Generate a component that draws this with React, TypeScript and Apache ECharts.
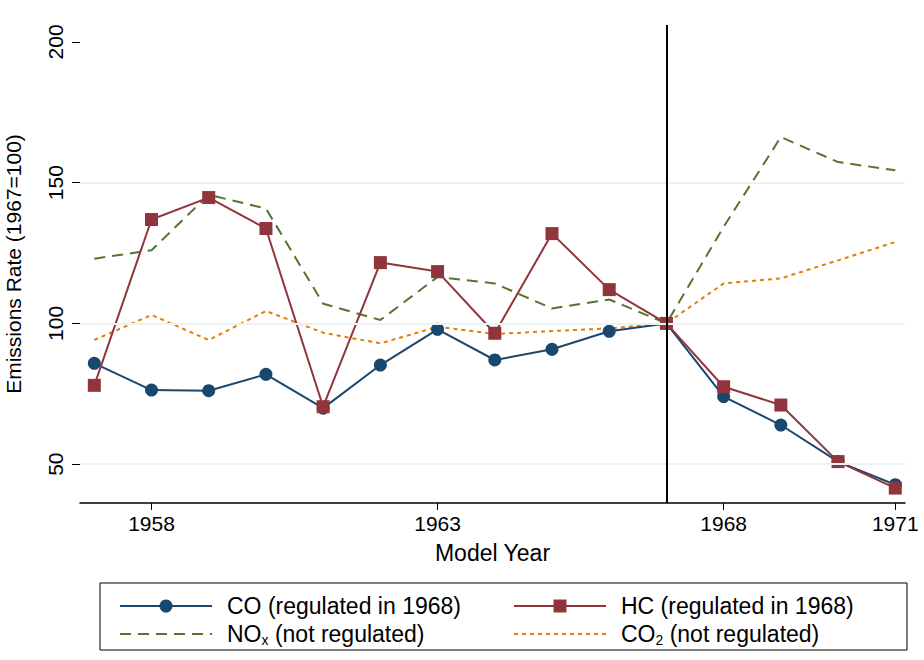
import React, { useEffect, useRef } from "react";
import * as echarts from "echarts";

const years = [1957,1958,1959,1960,1961,1962,1963,1964,1965,1966,1967,1968,1969,1970,1971];
const co = [85.8,76.3,76.1,81.9,69.9,85.2,97.9,87.0,90.8,97.2,100,74.0,63.9,50.9,42.7];
const hc = [78.0,136.9,144.7,133.7,70.4,121.6,118.4,96.5,131.9,112.0,100,77.5,71.0,50.9,41.5];
const nox = [123.0,126.0,145.7,140.8,107.0,101.2,116.5,114.2,105.3,108.5,100,134.3,166.2,157.3,154.4];
const co2 = [94.1,103.0,94.1,104.4,96.7,92.9,98.8,96.2,97.3,98.2,100,114.2,116.0,122.4,128.9];
const xTicks = [1958,1963,1968,1971];
const yTicks = [50,100,150,200];

const C_CO = "#1a476f", C_HC = "#90353b", C_NOX = "#55752f", C_CO2 = "#e37e00";
const FONT = "Liberation Sans, Arial, sans-serif";

export default function App() {
  const ref = useRef<HTMLDivElement>(null);
  useEffect(() => {
    const chart = echarts.init(ref.current!, null, { renderer: "svg" });
    const pts = (arr: number[]) => years.map((y, i) => [y, arr[i]]);
    const rich = {
      a: { fontSize: 23, fontFamily: FONT, fill: "#000" },
      s: { fontSize: 14, fontFamily: FONT, fill: "#000", padding: [12, 0, 0, 0] },
    };
    chart.setOption({
      animation: false,
      backgroundColor: "#fff",
      textStyle: { fontFamily: FONT },
      grid: { left: 80, right: 19, top: 25, bottom: 157, containLabel: false, outerBoundsMode: "none" },
      xAxis: {
        type: "value", min: 1956.75, max: 1971.17,
        name: "Model Year", nameLocation: "middle", nameGap: 38,
        nameTextStyle: { fontSize: 23, color: "#000", fontFamily: FONT },
        axisLine: { show: true, lineStyle: { color: "#000", width: 1.5 } },
        axisTick: { show: true, customValues: xTicks, length: 7, lineStyle: { color: "#000" } },
        axisLabel: { customValues: xTicks, fontSize: 21, color: "#000", margin: 10, fontFamily: FONT, formatter: (v: number) => String(v) },
        splitLine: { show: false },
      },
      yAxis: {
        type: "value", min: 36.2, max: 206,
        name: "Emissions Rate (1967=100)", nameLocation: "middle", nameGap: 56,
        nameTextStyle: { fontSize: 21, color: "#000", fontFamily: FONT },
        axisLine: { show: false },
        axisTick: { show: true, customValues: yTicks, length: 8, lineStyle: { color: "#000" } },
        axisLabel: { customValues: yTicks, rotate: 90, fontSize: 21, color: "#000", margin: 14, fontFamily: FONT, formatter: (v: number) => String(v) },
        splitLine: { show: false },
      },
      series: [
        {
          type: "line", data: [], silent: true,
          markLine: {
            silent: true, symbol: "none", label: { show: false },
            lineStyle: { color: "#eaf2f3", type: "solid", width: 2 },
            data: [{ yAxis: 50 }, { yAxis: 100 }, { yAxis: 150 }],
          },
        },
        {
          type: "line", data: pts(nox), showSymbol: false, symbol: "none",
          lineStyle: { color: C_NOX, width: 2, type: [11, 7] },
        },
        {
          type: "line", data: pts(co2), showSymbol: false, symbol: "none",
          lineStyle: { color: C_CO2, width: 2, type: [4, 4] },
        },
        {
          type: "line", data: pts(co), symbol: "circle", symbolSize: 13,
          itemStyle: { color: C_CO }, lineStyle: { color: C_CO, width: 2 },
        },
        {
          type: "line", data: pts(hc), symbol: "rect", symbolSize: 13,
          itemStyle: { color: C_HC }, lineStyle: { color: C_HC, width: 2 },
          markLine: {
            silent: true, symbol: "none", label: { show: false },
            lineStyle: { color: "#000", type: "solid", width: 2 },
            data: [{ xAxis: 1967 }],
          },
        },
      ],
      graphic: [
        { type: "rect", shape: { x: 100, y: 583, width: 807, height: 67 }, style: { fill: "#fff", stroke: "#000", lineWidth: 1 } },
        { type: "line", shape: { x1: 120, y1: 606, x2: 212, y2: 606 }, style: { stroke: C_CO, lineWidth: 2 } },
        { type: "circle", shape: { cx: 166, cy: 606, r: 6.5 }, style: { fill: C_CO } },
        { type: "text", x: 227, y: 606, style: { text: "CO (regulated in 1968)", fontSize: 23, fontFamily: FONT, fill: "#000", verticalAlign: "middle" } },
        { type: "line", shape: { x1: 514, y1: 606, x2: 606, y2: 606 }, style: { stroke: C_HC, lineWidth: 2 } },
        { type: "rect", shape: { x: 553.5, y: 599.5, width: 13, height: 13 }, style: { fill: C_HC } },
        { type: "text", x: 621, y: 606, style: { text: "HC (regulated in 1968)", fontSize: 23, fontFamily: FONT, fill: "#000", verticalAlign: "middle" } },
        { type: "line", shape: { x1: 120, y1: 634, x2: 212, y2: 634 }, style: { stroke: C_NOX, lineWidth: 2, lineDash: [11, 7] } },
        { type: "text", x: 227, y: 634, style: { text: "{a|NO}{s|x}{a| (not regulated)}", verticalAlign: "middle", rich } },
        { type: "line", shape: { x1: 514, y1: 634, x2: 606, y2: 634 }, style: { stroke: C_CO2, lineWidth: 2, lineDash: [4, 4] } },
        { type: "text", x: 621, y: 634, style: { text: "{a|CO}{s|2}{a| (not regulated)}", verticalAlign: "middle", rich } },
      ],
    });
    return () => chart.dispose();
  }, []);
  return <div ref={ref} style={{ position: "fixed", left: 0, top: 0, width: 924, height: 660 }} />;
}
